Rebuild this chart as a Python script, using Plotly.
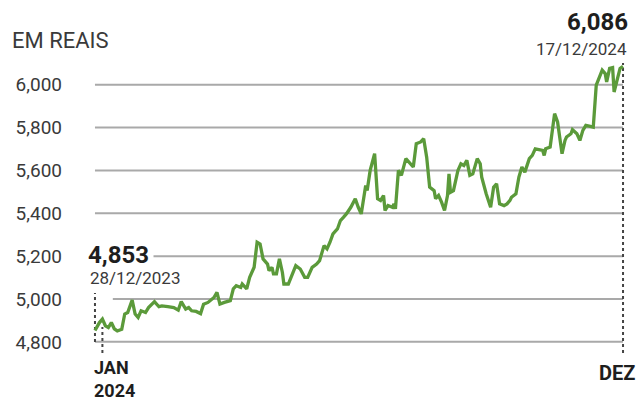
import plotly.graph_objects as go

# Dollar exchange rate in reais, 28/12/2023 to 17/12/2024
dates = [
    "2023-12-28", "2023-12-31", "2024-01-02", "2024-01-04", "2024-01-06", "2024-01-08",
    "2024-01-10", "2024-01-12", "2024-01-15", "2024-01-17", "2024-01-19", "2024-01-22",
    "2024-01-24", "2024-01-26", "2024-01-28", "2024-01-31", "2024-02-02", "2024-02-04",
    "2024-02-06", "2024-02-09", "2024-02-11", "2024-02-15", "2024-02-19", "2024-02-22",
    "2024-02-24", "2024-02-27", "2024-02-29", "2024-03-02", "2024-03-05", "2024-03-08",
    "2024-03-10", "2024-03-13", "2024-03-17", "2024-03-19", "2024-03-21", "2024-03-24",
    "2024-03-28", "2024-03-30", "2024-04-01", "2024-04-04", "2024-04-05", "2024-04-08",
    "2024-04-10", "2024-04-13", "2024-04-15", "2024-04-17", "2024-04-19", "2024-04-22",
    "2024-04-23", "2024-04-25", "2024-04-26", "2024-04-28", "2024-04-30", "2024-05-02",
    "2024-05-03", "2024-05-06", "2024-05-08", "2024-05-11", "2024-05-14", "2024-05-17",
    "2024-05-19", "2024-05-22", "2024-05-25", "2024-05-27", "2024-05-30", "2024-06-01",
    "2024-06-03", "2024-06-05", "2024-06-08", "2024-06-10", "2024-06-12", "2024-06-14",
    "2024-06-17", "2024-06-20", "2024-06-22", "2024-06-24", "2024-06-27", "2024-06-28",
    "2024-06-30", "2024-07-02", "2024-07-03", "2024-07-05", "2024-07-07", "2024-07-09",
    "2024-07-10", "2024-07-12", "2024-07-15", "2024-07-16", "2024-07-17", "2024-07-19",
    "2024-07-21", "2024-07-24", "2024-07-26", "2024-07-29", "2024-07-31", "2024-08-03",
    "2024-08-05", "2024-08-07", "2024-08-09", "2024-08-12", "2024-08-13", "2024-08-15",
    "2024-08-17", "2024-08-19", "2024-08-21", "2024-08-22", "2024-08-23", "2024-08-25",
    "2024-08-28", "2024-08-30", "2024-09-01", "2024-09-03", "2024-09-05", "2024-09-07",
    "2024-09-10", "2024-09-12", "2024-09-13", "2024-09-16", "2024-09-19", "2024-09-21",
    "2024-09-23", "2024-09-25", "2024-09-28", "2024-09-30", "2024-10-02", "2024-10-03",
    "2024-10-06", "2024-10-08", "2024-10-10", "2024-10-12", "2024-10-15", "2024-10-17",
    "2024-10-19", "2024-10-21", "2024-10-24", "2024-10-25", "2024-10-26", "2024-10-29",
    "2024-10-30", "2024-11-01", "2024-11-03", "2024-11-04", "2024-11-06", "2024-11-08",
    "2024-11-09", "2024-11-12", "2024-11-13", "2024-11-16", "2024-11-18", "2024-11-20",
    "2024-11-22", "2024-11-25", "2024-11-27", "2024-11-29", "2024-12-01", "2024-12-03",
    "2024-12-05", "2024-12-06", "2024-12-08", "2024-12-10", "2024-12-11", "2024-12-13",
    "2024-12-15", "2024-12-17",
]

rates = [
    4.853, 4.890, 4.906, 4.875, 4.867, 4.890,
    4.861, 4.851, 4.859, 4.930, 4.937, 4.995,
    4.930, 4.914, 4.945, 4.937, 4.960, 4.976,
    4.988, 4.964, 4.968, 4.964, 4.960, 4.948,
    4.988, 4.953, 4.960, 4.945, 4.942, 4.932,
    4.976, 4.984, 5.007, 5.031, 4.976, 4.984,
    4.992, 5.047, 5.062, 5.054, 5.070, 5.047,
    5.101, 5.148, 5.265, 5.257, 5.187, 5.163,
    5.132, 5.148, 5.117, 5.117, 5.187, 5.124,
    5.070, 5.070, 5.101, 5.156, 5.140, 5.101,
    5.101, 5.148, 5.163, 5.179, 5.249, 5.234,
    5.265, 5.304, 5.327, 5.366, 5.381, 5.397,
    5.428, 5.468, 5.428, 5.397, 5.530, 5.506,
    5.600, 5.662, 5.678, 5.468, 5.460, 5.483,
    5.413, 5.436, 5.428, 5.444, 5.421, 5.600,
    5.577, 5.655, 5.639, 5.616, 5.725, 5.733,
    5.748, 5.662, 5.522, 5.506, 5.468, 5.483,
    5.452, 5.413, 5.483, 5.584, 5.498, 5.506,
    5.600, 5.631, 5.623, 5.647, 5.577, 5.584,
    5.655, 5.631, 5.569, 5.491, 5.428, 5.522,
    5.538, 5.444, 5.436, 5.444, 5.460, 5.475,
    5.491, 5.569, 5.616, 5.592, 5.655, 5.670,
    5.701, 5.697, 5.693, 5.670, 5.701, 5.709,
    5.764, 5.865, 5.826, 5.779, 5.678, 5.740,
    5.756, 5.771, 5.790, 5.771, 5.740, 5.787,
    5.810, 5.806, 5.802, 5.998, 6.029, 6.068,
    6.052, 6.013, 6.076, 6.080, 5.966, 6.029,
    6.076, 6.086,
]

y_ticks = [4.8, 5.0, 5.2, 5.4, 5.6, 5.8, 6.0]
y_tick_labels = ["4,800", "5,000", "5,200", "5,400", "5,600", "5,800", "6,000"]

GREEN = "#5b9a3a"
GRID = "#a9a9a9"
DARK = "#1e1e1e"
TEXT = "#3a3a3a"
FONT = "Roboto"


def fmt(v):
    # Brazilian notation: comma as the decimal separator
    return f"{v:.3f}".replace(".", ",")


fig = go.Figure()
fig.add_trace(go.Scatter(
    x=dates, y=rates, mode="lines",
    line=dict(color=GREEN, width=3.3),
    hoverinfo="skip", showlegend=False,
))

shapes = []
# horizontal reference lines; the 5,000 line begins after the start-date label
grid_start = {5.0: "2024-01-09"}
for v in y_ticks:
    shapes.append(dict(
        type="line", xref="x", yref="y", layer="below",
        x0=grid_start.get(v, dates[0]), x1=dates[-1], y0=v, y1=v,
        line=dict(color=GRID, width=2),
    ))

dot = dict(color="#444444", width=2, dash="dot")
shapes.append(dict(type="line", xref="x", yref="y", layer="below",
                   x0=dates[0], x1=dates[0], y0=4.799, y1=5.028, line=dot))
shapes.append(dict(type="line", xref="x", yref="y", layer="below",
                   x0="2024-01-02", x1="2024-01-02", y0=4.748, y1=4.869, line=dot))
shapes.append(dict(type="line", xref="x", yref="y", layer="below",
                   x0=dates[-1], x1=dates[-1], y0=4.748, y1=6.101, line=dot))

annotations = [
    dict(text="EM REAIS", xref="paper", yref="paper", x=-0.1536, y=1.0633,
         xanchor="left", yanchor="middle", showarrow=False,
         font=dict(family=FONT, size=22, color=TEXT)),
    dict(text=f"<b>{fmt(rates[0])}</b>", xref="x", yref="y", x=dates[0], y=rates[0],
         xanchor="left", yanchor="middle", xshift=-12, yshift=76, showarrow=False,
         bgcolor="white", borderpad=4,
         font=dict(family=FONT, size=24, color=DARK)),
    dict(text="28/12/2023", xref="x", yref="y", x=dates[0], y=rates[0],
         xanchor="left", yanchor="middle", xshift=-7, yshift=53, showarrow=False,
         font=dict(family=FONT, size=17, color=TEXT)),
    dict(text=f"<b>{fmt(rates[-1])}</b>", xref="x", yref="y", x=dates[-1], y=rates[-1],
         xanchor="right", yanchor="middle", xshift=7, yshift=44, showarrow=False,
         font=dict(family=FONT, size=24, color=DARK)),
    dict(text="17/12/2024", xref="x", yref="y", x=dates[-1], y=rates[-1],
         xanchor="right", yanchor="middle", xshift=6, yshift=17, showarrow=False,
         font=dict(family=FONT, size=17, color=TEXT)),
    dict(text="<b>JAN<br>2024</b>", xref="x", yref="paper", x="2024-01-02", y=-0.0667,
         xanchor="left", yanchor="middle", align="left", xshift=-10, showarrow=False,
         font=dict(family=FONT, size=18, color=DARK)),
    dict(text="<b>DEZ</b>", xref="x", yref="paper", x=dates[-1], y=-0.0483,
         xanchor="right", yanchor="middle", xshift=14, showarrow=False,
         font=dict(family=FONT, size=20, color=DARK)),
]

fig.update_layout(
    width=639, height=403,
    margin=dict(l=92, r=13, t=59, b=44),
    paper_bgcolor="white", plot_bgcolor="white",
    shapes=shapes, annotations=annotations,
    xaxis=dict(range=["2023-12-26", "2024-12-19"], showgrid=False, zeroline=False,
               showline=False, showticklabels=False, ticks=""),
    yaxis=dict(range=[4.72, 6.12], showgrid=False, zeroline=False, showline=False,
               tickvals=y_ticks, ticktext=y_tick_labels, ticks="",
               ticklabelstandoff=29,
               tickfont=dict(family=FONT, size=19, color=TEXT)),
)

fig.write_html("out.html", config={"displayModeBar": False})
